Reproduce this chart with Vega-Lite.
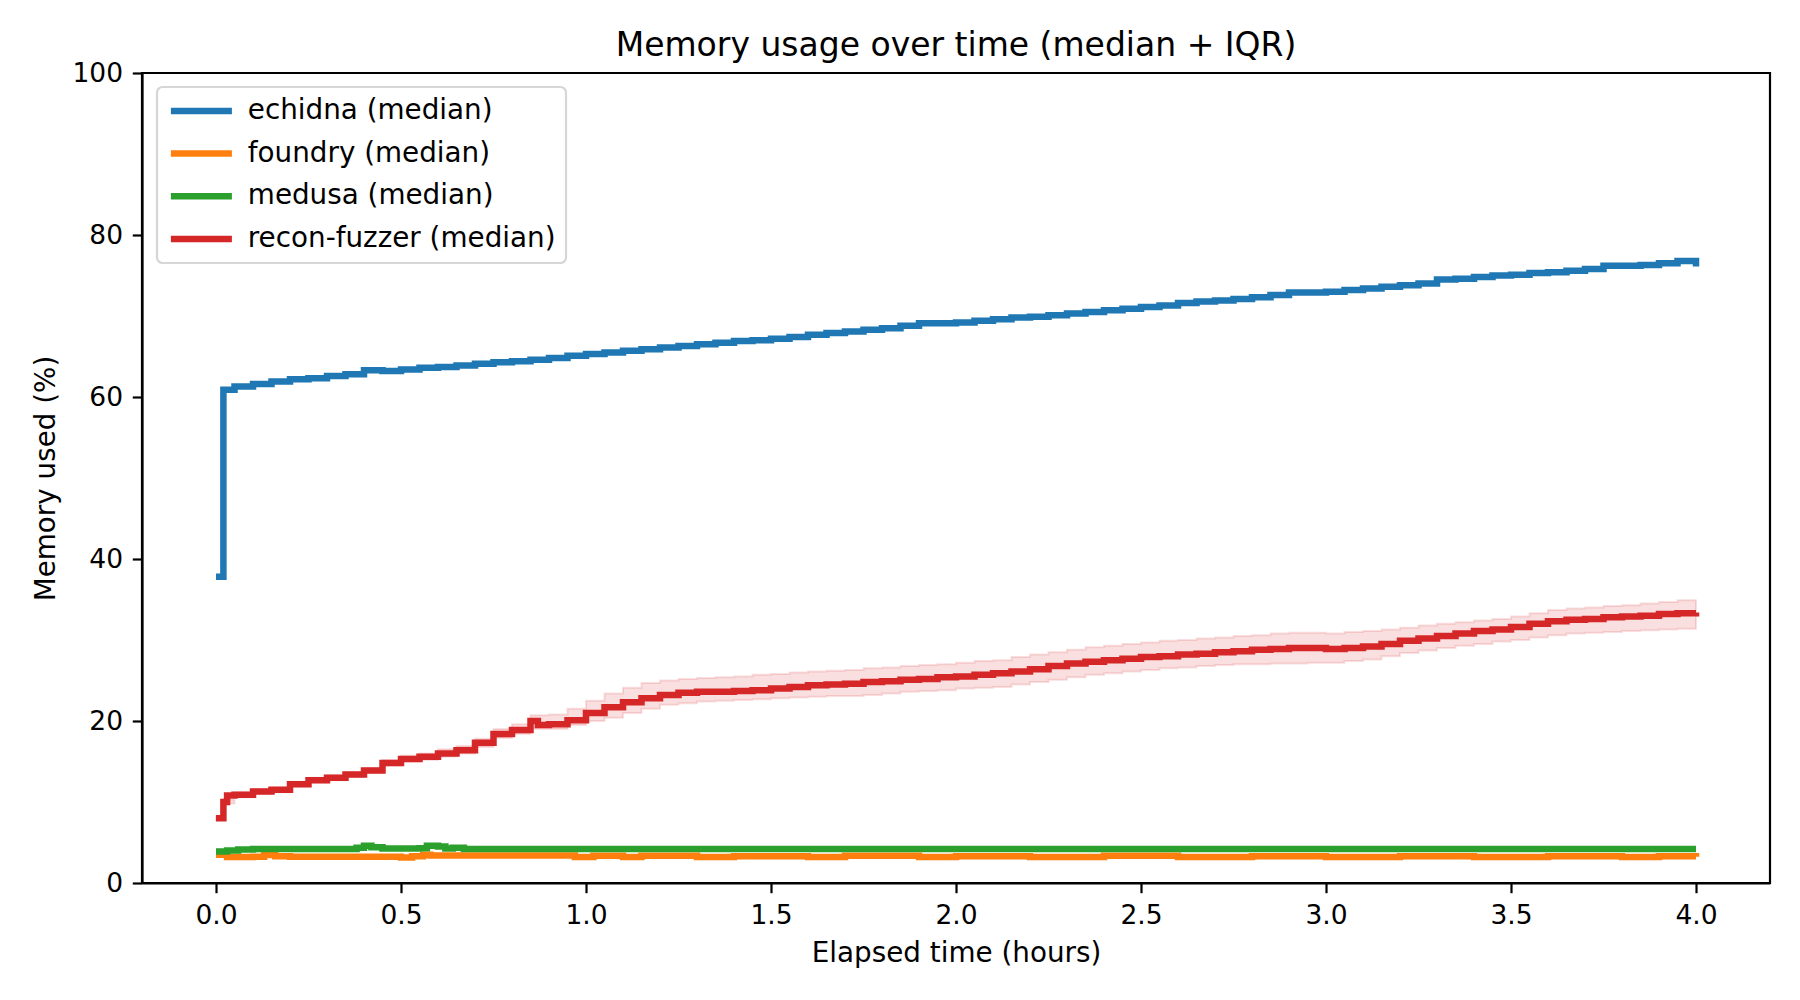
{
  "$schema": "https://vega.github.io/schema/vega-lite/v6.json",
  "width": 1628,
  "height": 810,
  "autosize": {"type": "none"},
  "padding": {"left": 142, "top": 73, "right": 30, "bottom": 117},
  "background": "white",
  "config": {
    "font": "DejaVu Sans",
    "view": {"stroke": "black", "strokeWidth": 2.2},
    "axis": {
      "domainColor": "black", "domainWidth": 2.2,
      "tickColor": "black", "tickWidth": 2.2, "tickSize": 9.7,
      "labelPadding": 9.7, "labelFontSize": 26.5, "labelColor": "black", "labelFont": "DejaVu Sans",
      "titleFontSize": 27.8, "titleFontWeight": "normal", "titleColor": "black", "titleFont": "DejaVu Sans",
      "grid": false
    },
    "legend": {
      "orient": "none", "legendX": 15, "legendY": 14,
      "symbolType": "M-1,0L5.1,0", "symbolSize": 400, "symbolStrokeWidth": 6.5, "symbolFillColor": "transparent",
      "labelFontSize": 27.8, "labelFont": "DejaVu Sans", "labelColor": "black", "labelLimit": 0,
      "labelOffset": 53, "padding": 10, "rowPadding": 13.7,
      "strokeColor": "#d6d6d6", "strokeWidth": 2.2, "fillColor": "rgba(255,255,255,0.8)", "cornerRadius": 5.6
    }
  },
  "title": {"text": "Memory usage over time (median + IQR)", "fontSize": 33, "fontWeight": "normal", "color": "black", "offset": -3, "anchor": "middle", "font": "DejaVu Sans"},
  "datasets": {
    "band": [
      {"h":0,"lo":7.8,"hi":8.2},{"h":0.02,"lo":9.8,"hi":10.3},{"h":0.05,"lo":10.6,"hi":11.2},{"h":0.1,"lo":11.0,"hi":11.6},
      {"h":0.15,"lo":11.2,"hi":11.8},{"h":0.2,"lo":11.9,"hi":12.5},{"h":0.25,"lo":12.4,"hi":13.0},{"h":0.3,"lo":12.7,"hi":13.3},
      {"h":0.35,"lo":13.1,"hi":13.7},{"h":0.4,"lo":13.6,"hi":14.2},{"h":0.45,"lo":14.5,"hi":15.2},{"h":0.5,"lo":15.0,"hi":15.7},
      {"h":0.55,"lo":15.2,"hi":16.0},{"h":0.6,"lo":15.6,"hi":16.5},{"h":0.65,"lo":16.0,"hi":16.9},{"h":0.7,"lo":16.8,"hi":17.8},
      {"h":0.75,"lo":17.9,"hi":19.0},{"h":0.8,"lo":18.4,"hi":19.6},{"h":0.85,"lo":19.0,"hi":20.7},{"h":0.9,"lo":19.0,"hi":20.8},
      {"h":0.95,"lo":19.5,"hi":21.5},{"h":1.0,"lo":20.0,"hi":22.5},{"h":1.05,"lo":20.4,"hi":23.4},{"h":1.1,"lo":21.0,"hi":24.1},
      {"h":1.15,"lo":21.5,"hi":24.7},{"h":1.2,"lo":22.0,"hi":25.0},{"h":1.25,"lo":22.2,"hi":25.2},{"h":1.3,"lo":22.4,"hi":25.3},
      {"h":1.35,"lo":22.5,"hi":25.4},{"h":1.4,"lo":22.6,"hi":25.5},{"h":1.45,"lo":22.7,"hi":25.7},{"h":1.5,"lo":22.8,"hi":25.8},
      {"h":1.55,"lo":22.9,"hi":26.0},{"h":1.6,"lo":23.0,"hi":26.1},{"h":1.65,"lo":23.1,"hi":26.2},{"h":1.7,"lo":23.1,"hi":26.3},
      {"h":1.75,"lo":23.2,"hi":26.5},{"h":1.8,"lo":23.4,"hi":26.6},{"h":1.85,"lo":23.6,"hi":26.8},{"h":1.9,"lo":23.7,"hi":26.9},
      {"h":1.95,"lo":23.8,"hi":27.0},{"h":2.0,"lo":24.0,"hi":27.2},{"h":2.05,"lo":24.1,"hi":27.4},{"h":2.1,"lo":24.2,"hi":27.5},
      {"h":2.15,"lo":24.5,"hi":27.9},{"h":2.2,"lo":24.8,"hi":28.2},{"h":2.25,"lo":25.1,"hi":28.5},{"h":2.3,"lo":25.4,"hi":28.8},
      {"h":2.35,"lo":25.7,"hi":29.1},{"h":2.4,"lo":25.9,"hi":29.3},{"h":2.45,"lo":26.1,"hi":29.5},{"h":2.5,"lo":26.3,"hi":29.7},
      {"h":2.55,"lo":26.5,"hi":29.9},{"h":2.6,"lo":26.6,"hi":30.0},{"h":2.65,"lo":26.8,"hi":30.2},{"h":2.7,"lo":26.9,"hi":30.3},
      {"h":2.75,"lo":27.0,"hi":30.5},{"h":2.8,"lo":27.0,"hi":30.6},{"h":2.85,"lo":27.1,"hi":30.8},{"h":2.9,"lo":27.1,"hi":30.9},
      {"h":2.95,"lo":27.2,"hi":30.9},{"h":3.0,"lo":27.2,"hi":30.8},{"h":3.05,"lo":27.4,"hi":31.0},{"h":3.1,"lo":27.6,"hi":31.1},
      {"h":3.15,"lo":28.0,"hi":31.3},{"h":3.2,"lo":28.4,"hi":31.5},{"h":3.25,"lo":28.7,"hi":31.8},{"h":3.3,"lo":29.0,"hi":32.0},
      {"h":3.35,"lo":29.3,"hi":32.2},{"h":3.4,"lo":29.5,"hi":32.4},{"h":3.45,"lo":29.8,"hi":32.6},{"h":3.5,"lo":30.0,"hi":32.9},
      {"h":3.55,"lo":30.3,"hi":33.3},{"h":3.6,"lo":30.6,"hi":33.7},{"h":3.65,"lo":30.8,"hi":33.9},{"h":3.7,"lo":30.9,"hi":34.0},
      {"h":3.75,"lo":31.0,"hi":34.2},{"h":3.8,"lo":31.1,"hi":34.3},{"h":3.85,"lo":31.2,"hi":34.5},{"h":3.9,"lo":31.3,"hi":34.7},
      {"h":3.95,"lo":31.4,"hi":34.9},{"h":4.0,"lo":31.5,"hi":35.0}
    ],
    "med": [
      {"s":"echidna (median)","h":0,"v":37.8},{"s":"echidna (median)","h":0.02,"v":60.9},{"s":"echidna (median)","h":0.05,"v":61.3},
      {"s":"echidna (median)","h":0.1,"v":61.6},{"s":"echidna (median)","h":0.15,"v":61.9},{"s":"echidna (median)","h":0.2,"v":62.2},
      {"s":"echidna (median)","h":0.25,"v":62.3},{"s":"echidna (median)","h":0.3,"v":62.6},{"s":"echidna (median)","h":0.35,"v":62.8},
      {"s":"echidna (median)","h":0.4,"v":63.3},{"s":"echidna (median)","h":0.45,"v":63.2},{"s":"echidna (median)","h":0.5,"v":63.4},
      {"s":"echidna (median)","h":0.55,"v":63.6},{"s":"echidna (median)","h":0.6,"v":63.7},{"s":"echidna (median)","h":0.65,"v":63.9},
      {"s":"echidna (median)","h":0.7,"v":64.1},{"s":"echidna (median)","h":0.75,"v":64.3},{"s":"echidna (median)","h":0.8,"v":64.4},
      {"s":"echidna (median)","h":0.85,"v":64.6},{"s":"echidna (median)","h":0.9,"v":64.8},{"s":"echidna (median)","h":0.95,"v":65.1},
      {"s":"echidna (median)","h":1.0,"v":65.3},{"s":"echidna (median)","h":1.05,"v":65.5},{"s":"echidna (median)","h":1.1,"v":65.7},
      {"s":"echidna (median)","h":1.15,"v":65.9},{"s":"echidna (median)","h":1.2,"v":66.1},{"s":"echidna (median)","h":1.25,"v":66.3},
      {"s":"echidna (median)","h":1.3,"v":66.5},{"s":"echidna (median)","h":1.35,"v":66.7},{"s":"echidna (median)","h":1.4,"v":66.9},
      {"s":"echidna (median)","h":1.45,"v":67.0},{"s":"echidna (median)","h":1.5,"v":67.2},{"s":"echidna (median)","h":1.55,"v":67.4},
      {"s":"echidna (median)","h":1.6,"v":67.7},{"s":"echidna (median)","h":1.65,"v":67.9},{"s":"echidna (median)","h":1.7,"v":68.1},
      {"s":"echidna (median)","h":1.75,"v":68.3},{"s":"echidna (median)","h":1.8,"v":68.5},{"s":"echidna (median)","h":1.85,"v":68.8},
      {"s":"echidna (median)","h":1.9,"v":69.1},{"s":"echidna (median)","h":1.95,"v":69.1},{"s":"echidna (median)","h":2.0,"v":69.2},
      {"s":"echidna (median)","h":2.05,"v":69.4},{"s":"echidna (median)","h":2.1,"v":69.6},{"s":"echidna (median)","h":2.15,"v":69.8},
      {"s":"echidna (median)","h":2.2,"v":69.9},{"s":"echidna (median)","h":2.25,"v":70.1},{"s":"echidna (median)","h":2.3,"v":70.3},
      {"s":"echidna (median)","h":2.35,"v":70.5},{"s":"echidna (median)","h":2.4,"v":70.7},{"s":"echidna (median)","h":2.45,"v":70.9},
      {"s":"echidna (median)","h":2.5,"v":71.1},{"s":"echidna (median)","h":2.55,"v":71.3},{"s":"echidna (median)","h":2.6,"v":71.6},
      {"s":"echidna (median)","h":2.65,"v":71.8},{"s":"echidna (median)","h":2.7,"v":71.9},{"s":"echidna (median)","h":2.75,"v":72.1},
      {"s":"echidna (median)","h":2.8,"v":72.3},{"s":"echidna (median)","h":2.85,"v":72.6},{"s":"echidna (median)","h":2.9,"v":72.9},
      {"s":"echidna (median)","h":2.95,"v":72.9},{"s":"echidna (median)","h":3.0,"v":73.0},{"s":"echidna (median)","h":3.05,"v":73.2},
      {"s":"echidna (median)","h":3.1,"v":73.4},{"s":"echidna (median)","h":3.15,"v":73.6},{"s":"echidna (median)","h":3.2,"v":73.8},
      {"s":"echidna (median)","h":3.25,"v":74.0},{"s":"echidna (median)","h":3.3,"v":74.5},{"s":"echidna (median)","h":3.35,"v":74.6},
      {"s":"echidna (median)","h":3.4,"v":74.8},{"s":"echidna (median)","h":3.45,"v":75.0},{"s":"echidna (median)","h":3.5,"v":75.1},
      {"s":"echidna (median)","h":3.55,"v":75.3},{"s":"echidna (median)","h":3.6,"v":75.4},{"s":"echidna (median)","h":3.65,"v":75.6},
      {"s":"echidna (median)","h":3.7,"v":75.8},{"s":"echidna (median)","h":3.75,"v":76.2},{"s":"echidna (median)","h":3.8,"v":76.2},
      {"s":"echidna (median)","h":3.85,"v":76.3},{"s":"echidna (median)","h":3.9,"v":76.5},{"s":"echidna (median)","h":3.95,"v":76.8},
      {"s":"echidna (median)","h":3.99,"v":76.8},{"s":"echidna (median)","h":4.0,"v":76.1},

      {"s":"foundry (median)","h":0,"v":3.5},{"s":"foundry (median)","h":0.03,"v":3.2},{"s":"foundry (median)","h":0.1,"v":3.25},
      {"s":"foundry (median)","h":0.13,"v":3.45},{"s":"foundry (median)","h":0.16,"v":3.3},{"s":"foundry (median)","h":0.2,"v":3.25},
      {"s":"foundry (median)","h":0.5,"v":3.15},{"s":"foundry (median)","h":0.53,"v":3.3},{"s":"foundry (median)","h":0.56,"v":3.5},
      {"s":"foundry (median)","h":0.58,"v":3.4},{"s":"foundry (median)","h":0.97,"v":3.2},{"s":"foundry (median)","h":1.02,"v":3.35},
      {"s":"foundry (median)","h":1.1,"v":3.2},{"s":"foundry (median)","h":1.15,"v":3.35},{"s":"foundry (median)","h":1.3,"v":3.2},
      {"s":"foundry (median)","h":1.4,"v":3.3},{"s":"foundry (median)","h":1.6,"v":3.2},{"s":"foundry (median)","h":1.7,"v":3.35},
      {"s":"foundry (median)","h":1.9,"v":3.2},{"s":"foundry (median)","h":2.0,"v":3.3},{"s":"foundry (median)","h":2.2,"v":3.2},
      {"s":"foundry (median)","h":2.4,"v":3.35},{"s":"foundry (median)","h":2.6,"v":3.2},{"s":"foundry (median)","h":2.8,"v":3.3},
      {"s":"foundry (median)","h":3.0,"v":3.2},{"s":"foundry (median)","h":3.2,"v":3.3},{"s":"foundry (median)","h":3.4,"v":3.2},
      {"s":"foundry (median)","h":3.6,"v":3.3},{"s":"foundry (median)","h":3.8,"v":3.2},{"s":"foundry (median)","h":3.9,"v":3.3},
      {"s":"foundry (median)","h":4.0,"v":3.25},

      {"s":"medusa (median)","h":0,"v":3.9},{"s":"medusa (median)","h":0.03,"v":4.0},{"s":"medusa (median)","h":0.06,"v":4.15},
      {"s":"medusa (median)","h":0.1,"v":4.2},{"s":"medusa (median)","h":0.38,"v":4.35},{"s":"medusa (median)","h":0.4,"v":4.6},
      {"s":"medusa (median)","h":0.42,"v":4.4},{"s":"medusa (median)","h":0.45,"v":4.25},{"s":"medusa (median)","h":0.55,"v":4.3},
      {"s":"medusa (median)","h":0.57,"v":4.6},{"s":"medusa (median)","h":0.6,"v":4.5},{"s":"medusa (median)","h":0.62,"v":4.25},
      {"s":"medusa (median)","h":0.64,"v":4.35},{"s":"medusa (median)","h":0.67,"v":4.2},{"s":"medusa (median)","h":1.5,"v":4.2},
      {"s":"medusa (median)","h":2.5,"v":4.2},{"s":"medusa (median)","h":4.0,"v":4.2},

      {"s":"recon-fuzzer (median)","h":0,"v":8.0},{"s":"recon-fuzzer (median)","h":0.02,"v":10.0},{"s":"recon-fuzzer (median)","h":0.03,"v":10.8},
      {"s":"recon-fuzzer (median)","h":0.05,"v":10.9},{"s":"recon-fuzzer (median)","h":0.1,"v":11.3},{"s":"recon-fuzzer (median)","h":0.15,"v":11.5},
      {"s":"recon-fuzzer (median)","h":0.2,"v":12.2},{"s":"recon-fuzzer (median)","h":0.25,"v":12.7},{"s":"recon-fuzzer (median)","h":0.3,"v":13.0},
      {"s":"recon-fuzzer (median)","h":0.35,"v":13.4},{"s":"recon-fuzzer (median)","h":0.4,"v":13.9},{"s":"recon-fuzzer (median)","h":0.45,"v":14.8},
      {"s":"recon-fuzzer (median)","h":0.5,"v":15.3},{"s":"recon-fuzzer (median)","h":0.55,"v":15.6},{"s":"recon-fuzzer (median)","h":0.6,"v":16.0},
      {"s":"recon-fuzzer (median)","h":0.65,"v":16.4},{"s":"recon-fuzzer (median)","h":0.7,"v":17.3},{"s":"recon-fuzzer (median)","h":0.75,"v":18.4},
      {"s":"recon-fuzzer (median)","h":0.8,"v":18.9},{"s":"recon-fuzzer (median)","h":0.85,"v":20.0},{"s":"recon-fuzzer (median)","h":0.87,"v":19.5},
      {"s":"recon-fuzzer (median)","h":0.9,"v":19.6},{"s":"recon-fuzzer (median)","h":0.95,"v":20.1},{"s":"recon-fuzzer (median)","h":1.0,"v":21.0},
      {"s":"recon-fuzzer (median)","h":1.05,"v":21.7},{"s":"recon-fuzzer (median)","h":1.1,"v":22.3},{"s":"recon-fuzzer (median)","h":1.15,"v":22.8},
      {"s":"recon-fuzzer (median)","h":1.2,"v":23.2},{"s":"recon-fuzzer (median)","h":1.25,"v":23.5},{"s":"recon-fuzzer (median)","h":1.3,"v":23.6},
      {"s":"recon-fuzzer (median)","h":1.35,"v":23.6},{"s":"recon-fuzzer (median)","h":1.4,"v":23.7},{"s":"recon-fuzzer (median)","h":1.45,"v":23.8},
      {"s":"recon-fuzzer (median)","h":1.5,"v":24.0},{"s":"recon-fuzzer (median)","h":1.55,"v":24.2},{"s":"recon-fuzzer (median)","h":1.6,"v":24.4},
      {"s":"recon-fuzzer (median)","h":1.65,"v":24.5},{"s":"recon-fuzzer (median)","h":1.7,"v":24.6},{"s":"recon-fuzzer (median)","h":1.75,"v":24.8},
      {"s":"recon-fuzzer (median)","h":1.8,"v":24.9},{"s":"recon-fuzzer (median)","h":1.85,"v":25.1},{"s":"recon-fuzzer (median)","h":1.9,"v":25.2},
      {"s":"recon-fuzzer (median)","h":1.95,"v":25.4},{"s":"recon-fuzzer (median)","h":2.0,"v":25.5},{"s":"recon-fuzzer (median)","h":2.05,"v":25.7},
      {"s":"recon-fuzzer (median)","h":2.1,"v":25.9},{"s":"recon-fuzzer (median)","h":2.15,"v":26.1},{"s":"recon-fuzzer (median)","h":2.2,"v":26.4},
      {"s":"recon-fuzzer (median)","h":2.25,"v":26.8},{"s":"recon-fuzzer (median)","h":2.3,"v":27.1},{"s":"recon-fuzzer (median)","h":2.35,"v":27.3},
      {"s":"recon-fuzzer (median)","h":2.4,"v":27.5},{"s":"recon-fuzzer (median)","h":2.45,"v":27.7},{"s":"recon-fuzzer (median)","h":2.5,"v":27.9},
      {"s":"recon-fuzzer (median)","h":2.55,"v":28.0},{"s":"recon-fuzzer (median)","h":2.6,"v":28.2},{"s":"recon-fuzzer (median)","h":2.65,"v":28.3},
      {"s":"recon-fuzzer (median)","h":2.7,"v":28.5},{"s":"recon-fuzzer (median)","h":2.75,"v":28.6},{"s":"recon-fuzzer (median)","h":2.8,"v":28.8},
      {"s":"recon-fuzzer (median)","h":2.85,"v":28.9},{"s":"recon-fuzzer (median)","h":2.9,"v":29.0},{"s":"recon-fuzzer (median)","h":2.95,"v":29.0},
      {"s":"recon-fuzzer (median)","h":3.0,"v":28.9},{"s":"recon-fuzzer (median)","h":3.05,"v":29.0},{"s":"recon-fuzzer (median)","h":3.1,"v":29.2},
      {"s":"recon-fuzzer (median)","h":3.15,"v":29.5},{"s":"recon-fuzzer (median)","h":3.2,"v":29.9},{"s":"recon-fuzzer (median)","h":3.25,"v":30.2},
      {"s":"recon-fuzzer (median)","h":3.3,"v":30.5},{"s":"recon-fuzzer (median)","h":3.35,"v":30.8},{"s":"recon-fuzzer (median)","h":3.4,"v":31.1},
      {"s":"recon-fuzzer (median)","h":3.45,"v":31.3},{"s":"recon-fuzzer (median)","h":3.5,"v":31.6},{"s":"recon-fuzzer (median)","h":3.55,"v":32.0},
      {"s":"recon-fuzzer (median)","h":3.6,"v":32.3},{"s":"recon-fuzzer (median)","h":3.65,"v":32.5},{"s":"recon-fuzzer (median)","h":3.7,"v":32.6},
      {"s":"recon-fuzzer (median)","h":3.75,"v":32.8},{"s":"recon-fuzzer (median)","h":3.8,"v":32.9},{"s":"recon-fuzzer (median)","h":3.85,"v":33.0},
      {"s":"recon-fuzzer (median)","h":3.9,"v":33.2},{"s":"recon-fuzzer (median)","h":3.95,"v":33.3},{"s":"recon-fuzzer (median)","h":4.0,"v":33.4}
    ]
  },
  "layer": [
    {
      "data": {"name": "band"},
      "mark": {"type": "area", "interpolate": "step-after", "fill": "#d62728", "fillOpacity": 0.15, "stroke": "#d62728", "strokeOpacity": 0.15, "strokeWidth": 2},
      "encoding": {
        "x": {"field": "h", "type": "quantitative", "scale": {"domain": [-0.2, 4.2], "nice": false, "zero": false},
              "axis": {"title": "Elapsed time (hours)", "values": [0, 0.5, 1, 1.5, 2, 2.5, 3, 3.5, 4], "format": ".1f", "titlePadding": 11}},
        "y": {"field": "lo", "type": "quantitative", "scale": {"domain": [0, 100], "nice": false},
              "axis": {"title": "Memory used (%)", "values": [0, 20, 40, 60, 80, 100], "titlePadding": 12}},
        "y2": {"field": "hi"}
      }
    },
    {
      "data": {"name": "med"},
      "mark": {"type": "line", "interpolate": "step-after", "strokeWidth": 6.5},
      "encoding": {
        "x": {"field": "h", "type": "quantitative"},
        "y": {"field": "v", "type": "quantitative"},
        "color": {"field": "s", "type": "nominal", "title": null,
                  "scale": {"domain": ["echidna (median)", "foundry (median)", "medusa (median)", "recon-fuzzer (median)"],
                            "range": ["#1f77b4", "#ff7f0e", "#2ca02c", "#d62728"]}}
      }
    }
  ]
}
